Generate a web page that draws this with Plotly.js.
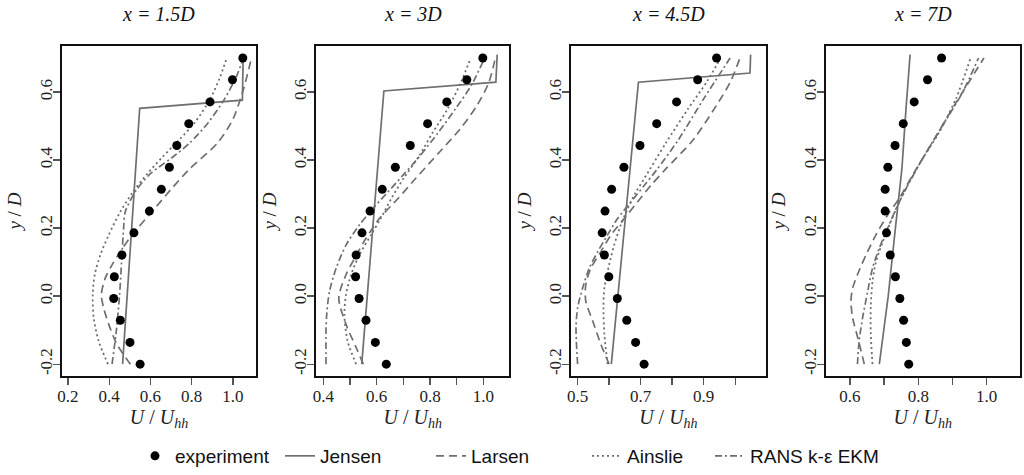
<!DOCTYPE html>
<html>
<head>
<meta charset="utf-8">
<script src="https://cdn.plot.ly/plotly-3.0.1.min.js"></script>
<style>html,body{margin:0;padding:0;background:#fff;}#chart{width:1024px;height:475px;}</style>
</head>
<body>
<div id="chart"></div>
<script>
// ---------- data ----------
const panelTitles = ["x = 1.5D", "x = 3D", "x = 4.5D", "x = 7D"];
const seriesNames = ["experiment", "Jensen", "Larsen", "Ainslie", "RANS k-\u03b5 EKM"];

// experiment (y/D levels, shared)
const expY = [-0.2, -0.136, -0.071, -0.007, 0.057, 0.121, 0.186, 0.25, 0.314, 0.379, 0.443, 0.507, 0.571, 0.636, 0.7];
const exp1 = [0.550, 0.501, 0.454, 0.422, 0.425, 0.462, 0.520, 0.595, 0.653, 0.692, 0.728, 0.786, 0.889, 0.998, 1.048];
const exp2 = [0.636, 0.595, 0.560, 0.534, 0.521, 0.523, 0.545, 0.575, 0.621, 0.670, 0.726, 0.791, 0.863, 0.938, 0.998];
const exp3 = [0.711, 0.684, 0.656, 0.626, 0.599, 0.585, 0.578, 0.587, 0.608, 0.647, 0.698, 0.751, 0.814, 0.881, 0.941];
const exp4 = [0.772, 0.765, 0.757, 0.746, 0.733, 0.718, 0.707, 0.703, 0.703, 0.711, 0.732, 0.756, 0.788, 0.827, 0.868];

// Jensen
const jenY1 = [-0.2, 0.552, 0.576, 0.71];
const jenX1 = [0.465, 0.548, 1.046, 1.050];
const jenY2 = [-0.2, 0.603, 0.629, 0.71];
const jenX2 = [0.544, 0.627, 1.047, 1.052];
const jenY3 = [-0.2, 0.629, 0.656, 0.71];
const jenX3 = [0.607, 0.693, 1.047, 1.049];
const jenY4 = [-0.2, 0.0, 0.2, 0.374, 0.55, 0.71];
const jenX4 = [0.686, 0.712, 0.733, 0.752, 0.764, 0.776];

// Larsen
const larY1 = [-0.2, -0.142, -0.083, -0.034, 0.004, 0.053, 0.092, 0.131, 0.18, 0.25, 0.314, 0.374, 0.45, 0.52, 0.608, 0.70];
const larX1 = [0.503, 0.438, 0.398, 0.373, 0.362, 0.381, 0.414, 0.454, 0.511, 0.61, 0.70, 0.79, 0.925, 1.0, 1.051, 1.09];
const larY2 = [-0.2, -0.151, -0.083, -0.005, 0.063, 0.111, 0.17, 0.228, 0.287, 0.345, 0.423, 0.491, 0.559, 0.627, 0.70];
const larX2 = [0.55, 0.523, 0.485, 0.458, 0.485, 0.517, 0.56, 0.61, 0.68, 0.745, 0.835, 0.9125, 0.975, 1.02, 1.045];
const larY3 = [-0.2, -0.142, -0.073, -0.015, 0.034, 0.082, 0.131, 0.18, 0.228, 0.277, 0.326, 0.374, 0.46, 0.56, 0.63, 0.70];
const larX3 = [0.60, 0.574, 0.548, 0.526, 0.526, 0.542, 0.574, 0.606, 0.648, 0.690, 0.733, 0.78, 0.867, 0.94, 0.985, 1.015];
const larY4 = [-0.2, -0.13, -0.064, -0.015, 0.024, 0.063, 0.121, 0.18, 0.238, 0.287, 0.355, 0.45, 0.56, 0.70];
const larX4 = [0.642, 0.625, 0.608, 0.603, 0.608, 0.622, 0.647, 0.676, 0.71, 0.744, 0.783, 0.84, 0.905, 0.992];

// Ainslie
const ainY1 = [-0.2, -0.132, -0.064, 0.004, 0.063, 0.121, 0.18, 0.248, 0.306, 0.36, 0.41, 0.46, 0.51, 0.58, 0.64, 0.70];
const ainX1 = [0.394, 0.349, 0.325, 0.320, 0.330, 0.357, 0.398, 0.454, 0.515, 0.585, 0.66, 0.74, 0.815, 0.89, 0.935, 0.97];
const ainY2 = [-0.2, -0.132, -0.054, 0.004, 0.063, 0.121, 0.18, 0.228, 0.287, 0.345, 0.413, 0.481, 0.549, 0.627, 0.70];
const ainX2 = [0.523, 0.491, 0.479, 0.485, 0.504, 0.535, 0.579, 0.615, 0.655, 0.70, 0.76, 0.81, 0.865, 0.915, 0.9525];
const ainY3 = [-0.2, -0.112, -0.034, 0.024, 0.092, 0.15, 0.209, 0.257, 0.306, 0.345, 0.45, 0.55, 0.63, 0.70];
const ainX3 = [0.595, 0.585, 0.582, 0.585, 0.60, 0.616, 0.637, 0.659, 0.685, 0.711, 0.78, 0.85, 0.91, 0.954];
const ainY4 = [-0.2, -0.11, -0.03, 0.043, 0.10, 0.16, 0.22, 0.267, 0.326, 0.40, 0.48, 0.58, 0.70];
const ainX4 = [0.666, 0.661, 0.661, 0.666, 0.676, 0.696, 0.72, 0.74, 0.769, 0.81, 0.86, 0.91, 0.953];

// RANS k-eps EKM
const ranY1 = [-0.2, -0.1, 0.0, 0.1, 0.2, 0.248, 0.31, 0.36, 0.405, 0.45, 0.51, 0.58, 0.65, 0.70];
const ranX1 = [0.414, 0.435, 0.45, 0.46, 0.47, 0.478, 0.53, 0.60, 0.70, 0.79, 0.88, 0.96, 1.02, 1.05];
const ranY2 = [-0.2, -0.1, -0.05, 0.014, 0.082, 0.15, 0.209, 0.257, 0.306, 0.355, 0.41, 0.48, 0.55, 0.62, 0.70];
const ranX2 = [0.41, 0.41, 0.413, 0.423, 0.448, 0.485, 0.535, 0.585, 0.642, 0.698, 0.76, 0.83, 0.895, 0.955, 1.005];
const ranY3 = [-0.2, -0.093, -0.035, 0.024, 0.082, 0.131, 0.18, 0.228, 0.277, 0.326, 0.369, 0.46, 0.58, 0.70];
const ranX3 = [0.50, 0.495, 0.50, 0.516, 0.537, 0.564, 0.595, 0.627, 0.669, 0.712, 0.749, 0.82, 0.90, 0.984];
const ranY4 = [-0.2, -0.132, -0.064, 0.014, 0.082, 0.141, 0.199, 0.257, 0.316, 0.40, 0.50, 0.60, 0.70];
const ranX4 = [0.622, 0.627, 0.637, 0.652, 0.666, 0.686, 0.71, 0.735, 0.764, 0.81, 0.87, 0.93, 0.976];

// axis ticks (labelled ticks; unlabelled ones every 0.1 drawn as minor ticks)
const yTickVals = [-0.2, 0.0, 0.2, 0.4, 0.6];
const yTickText = ["-0.2", "0.0", "0.2", "0.4", "0.6"];
const xTickVals1 = [0.2, 0.4, 0.6, 0.8, 1.0];
const xTickText1 = ["0.2", "0.4", "0.6", "0.8", "1.0"];
const xTickVals2 = [0.4, 0.6, 0.8, 1.0];
const xTickText2 = ["0.4", "0.6", "0.8", "1.0"];
const xTickVals3 = [0.5, 0.7, 0.9];
const xTickText3 = ["0.5", "0.7", "0.9"];
const xTickVals4 = [0.6, 0.8, 1.0];
const xTickText4 = ["0.6", "0.8", "1.0"];
const xMinorStep = [0.2, 0.1, 0.1, 0.1];
const xMinorStart = [0.2, 0.4, 0.5, 0.6];

// ---------- build ----------
const grey = "#6f6f6f";
const serif = "Liberation Serif, Times New Roman, serif";
const sans = "Liberation Sans Narrow, Liberation Sans, Arial, sans-serif";

const expX = [exp1, exp2, exp3, exp4];
const jen = [[jenX1, jenY1], [jenX2, jenY2], [jenX3, jenY3], [jenX4, jenY4]];
const lar = [[larX1, larY1], [larX2, larY2], [larX3, larY3], [larX4, larY4]];
const ain = [[ainX1, ainY1], [ainX2, ainY2], [ainX3, ainY3], [ainX4, ainY4]];
const ran = [[ranX1, ranY1], [ranX2, ranY2], [ranX3, ranY3], [ranX4, ranY4]];

const traces = [];
for (let i = 0; i < 4; i++) {
  const xa = i === 0 ? "x" : "x" + (i + 1);
  const ya = i === 0 ? "y" : "y" + (i + 1);
  const first = i === 0;
  traces.push({x: lar[i][0], y: lar[i][1], xaxis: xa, yaxis: ya, mode: "lines", name: seriesNames[2],
    line: {color: grey, width: 1.7, dash: "8px,5px", shape: "spline", smoothing: 0.8},
    showlegend: first, legend: "legend3", hoverinfo: "skip"});
  traces.push({x: ain[i][0], y: ain[i][1], xaxis: xa, yaxis: ya, mode: "lines", name: seriesNames[3],
    line: {color: grey, width: 1.8, dash: "2px,3px", shape: "spline", smoothing: 0.8},
    showlegend: first, legend: "legend4", hoverinfo: "skip"});
  traces.push({x: ran[i][0], y: ran[i][1], xaxis: xa, yaxis: ya, mode: "lines", name: seriesNames[4],
    line: {color: grey, width: 1.7, dash: "7px,3px,2px,3px", shape: "spline", smoothing: 0.8},
    showlegend: first, legend: "legend5", hoverinfo: "skip"});
  traces.push({x: jen[i][0], y: jen[i][1], xaxis: xa, yaxis: ya, mode: "lines", name: seriesNames[1],
    line: {color: grey, width: 1.7}, showlegend: first, legend: "legend2", hoverinfo: "skip"});
  traces.push({x: expX[i], y: expY, xaxis: xa, yaxis: ya, mode: "markers", name: seriesNames[0],
    marker: {color: "#000", size: 9}, showlegend: first, legend: "legend", hoverinfo: "skip"});
}

const yDom = [0.2042, 0.9032];
const xDoms = [[0.0605, 0.25], [0.3086, 0.4974], [0.5576, 0.7478], [0.8063, 0.9961]];
const xRanges = [[0.171, 1.112], [0.3725, 1.0975], [0.479, 1.097], [0.529, 1.0975]];
const xTV = [xTickVals1, xTickVals2, xTickVals3, xTickVals4];
const xTT = [xTickText1, xTickText2, xTickText3, xTickText4];

const axCommon = {
  showline: true, mirror: true, linecolor: "#111", linewidth: 2,
  ticks: "outside", ticklen: 7, tickwidth: 1.3, tickcolor: "#555",
  showgrid: false, zeroline: false, fixedrange: true,
  tickfont: {family: serif, size: 17, color: "#222"}
};

const layout = {
  width: 1024, height: 475,
  margin: {l: 0, r: 0, t: 0, b: 0},
  paper_bgcolor: "#fff", plot_bgcolor: "#fff",
  showlegend: true,
  annotations: []
};

for (let i = 0; i < 4; i++) {
  const sx = i === 0 ? "" : String(i + 1);
  layout["xaxis" + sx] = Object.assign({}, axCommon, {
    domain: xDoms[i], range: xRanges[i], anchor: "y" + sx,
    tickmode: "array", tickvals: xTV[i], ticktext: xTT[i],
    ticklabelstandoff: -4,
    minor: {dtick: xMinorStep[i], tick0: xMinorStart[i], ticks: "outside", ticklen: 7, tickwidth: 1.3, tickcolor: "#555", showgrid: false},
    title: {text: "<i>U</i> / <i>U</i><sub><i>hh</i></sub>", font: {family: serif, size: 20, color: "#222"}, standoff: 0}
  });
  layout["yaxis" + sx] = Object.assign({}, axCommon, {
    domain: yDom, range: [-0.236, 0.736], anchor: "x" + sx,
    tickmode: "array", tickvals: yTickVals, ticktext: yTickText, tickangle: -90,
    ticklabelstandoff: -6,
    title: {text: "<i>y</i> / <i>D</i>", font: {family: serif, size: 19, color: "#222"}, standoff: 10}
  });
  layout.annotations.push({
    text: "<i>" + panelTitles[i] + "</i>", xref: "paper", yref: "paper",
    x: (xDoms[i][0] + xDoms[i][1]) / 2, y: 0.9695, xanchor: "center", yanchor: "middle",
    showarrow: false, font: {family: serif, size: 20, color: "#111"}
  });
}

const legBase = {orientation: "h", y: 0.036, yanchor: "middle", xanchor: "left",
  bgcolor: "rgba(0,0,0,0)", borderwidth: 0, font: {family: sans, size: 19, color: "#111"}};
const legX = [135, 280, 431, 587, 710];
const legNames = ["legend", "legend2", "legend3", "legend4", "legend5"];
legNames.forEach((n, k) => { layout[n] = Object.assign({}, legBase, {x: legX[k] / 1024}); });

Plotly.newPlot("chart", traces, layout, {staticPlot: true, displayModeBar: false});
</script>
</body>
</html>
